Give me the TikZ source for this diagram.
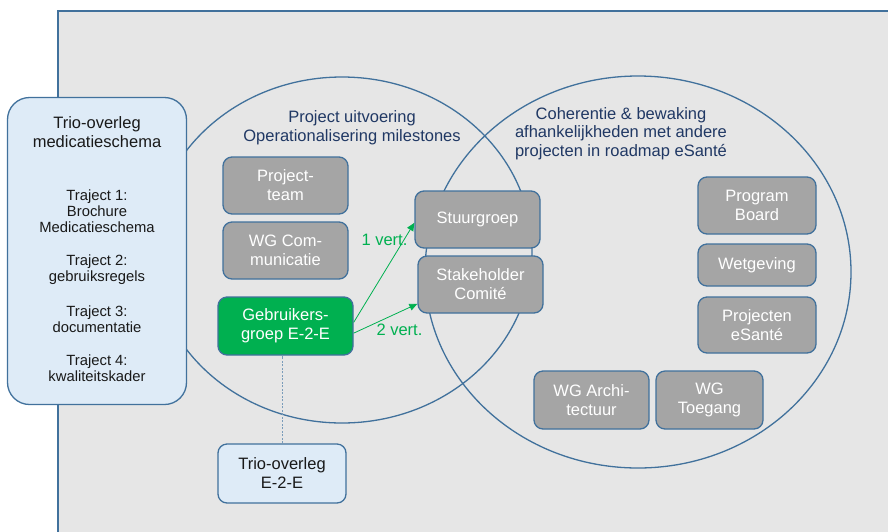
\documentclass[tikz,border=0pt]{standalone}
\usepackage{fontspec}
\setmainfont{Liberation Sans}
\usepackage{tikz}
\usetikzlibrary{arrows.meta, positioning, calc}
\definecolor{linkblue}{HTML}{41719C}
\definecolor{panelgray}{HTML}{E6E6E6}
\definecolor{paleblue}{HTML}{DEEBF7}
\definecolor{boxgray}{HTML}{A5A5A5}
\definecolor{usergreen}{HTML}{00B050}
\definecolor{titlenavy}{HTML}{203864}
\newcommand{\boxfont}{\fontsize{16.5}{19}\selectfont}
\newcommand{\smallboxfont}{\fontsize{14.8}{16}\selectfont}
\tikzset{
	graybox/.style={draw=linkblue, line width=1.3pt, fill=boxgray, rounded corners=9pt,
		text=white, align=center, inner sep=0pt, font=\boxfont}
}
\tikzset{
	bluebox/.style={graybox, fill=paleblue, text=black!90}
}
\tikzset{
	titletext/.style={align=center, text=titlenavy, font=\fontsize{16.5}{18.6}\selectfont},
	vertlabel/.style={text=usergreen, font=\boxfont},
	vertarrow/.style={draw=usergreen, line width=0.8pt, -{Triangle[width=7pt,length=8pt]}}
}

\begin{document}
\begin{tikzpicture}[x=1pt, y=-1pt]
      \useasboundingbox (0,0) rectangle (888,531);
      \clip (0,0) rectangle (888,531);
      \draw[linkblue, line width=1.3pt, fill=panelgray] (58,11) rectangle (900,545);
      % two circles
      \draw[linkblue, line width=1.3pt] (342,250) ellipse [x radius=190pt, y radius=173pt];
      \draw[linkblue, line width=1.3pt] (638,272) ellipse [x radius=213pt, y radius=196pt];
      \node[titletext] (leftttl) at (352,127.5) {Project uitvoering\\Operationalisering milestones};
      \node[titletext] (rightttl) at (621,133.5) {Coherentie \& bewaking\\afhankelijkheden met andere\\projecten in roadmap eSant\'e};
      % trio box on the left
      \node[bluebox, rounded corners=22pt, minimum width=179pt, minimum height=307pt] (trio) at (97,251) {};
      \node[text=black!90, align=center, font=\boxfont] (triottl) at (97,132.5) {Trio-overleg\\medicatieschema};
      \foreach \n/\y/\l in {tr1/211.5/{Traject 1:\\Brochure\\Medicatieschema},
                            tr2/270/{Traject 2:\\gebruiksregels},
                            tr3/319.5/{Traject 3:\\documentatie},
                            tr4/368.5/{Traject 4:\\kwaliteitskader}}
        \node[text=black!90, align=center, font=\smallboxfont] (\n) at (97,\y) {\l};
      % gray boxes
      \foreach \n/\x/\y/\w/\h/\l in {projteam/285.5/185.5/125/57/{Project-\\team},
                                     wgcom/285.5/250.5/125/57/{WG Com-\\municatie},
                                     stuur/477.5/219.5/125/57/{Stuurgroep},
                                     stake/480.5/284.5/125/57/{Stakeholder\\Comit\'e},
                                     progboard/757/205.5/118/57/{Program\\Board},
                                     wetg/757/265/118/42/{Wetgeving},
                                     projes/757/325/118/56/{Projecten\\eSant\'e},
                                     wgarch/591.5/400/115/58/{WG Archi-\\tectuur},
                                     wgtoeg/709.5/400/107/58/{WG\\Toegang}}
        \node[graybox, minimum width=\w pt, minimum height=\h pt] (\n) at (\x,\y) {\l};
      \node[graybox, fill=usergreen, minimum width=135pt, minimum height=58pt] (gebr) at (285.5,326) {Gebruikers-\\groep E-2-E};
      \node[bluebox, minimum width=128pt, minimum height=59pt] (trioe2e) at (282,473.5) {Trio-overleg\\E-2-E};
      \draw[draw=linkblue!70!white, line width=0.6pt, dash pattern=on 2pt off 1.5pt] (trioe2e.north) -- (trioe2e.north |- gebr.south);
      % votes
      \draw[vertarrow] (gebr.3) -- (stuur.183);
      \draw[vertarrow] (gebr.354) -- (stake.197);
      \node[vertlabel] (vert1) at (384.5,240) {1 vert.};
      \node[vertlabel] (vert2) at (399.5,330) {2 vert.};
    \end{tikzpicture}
\end{document}
